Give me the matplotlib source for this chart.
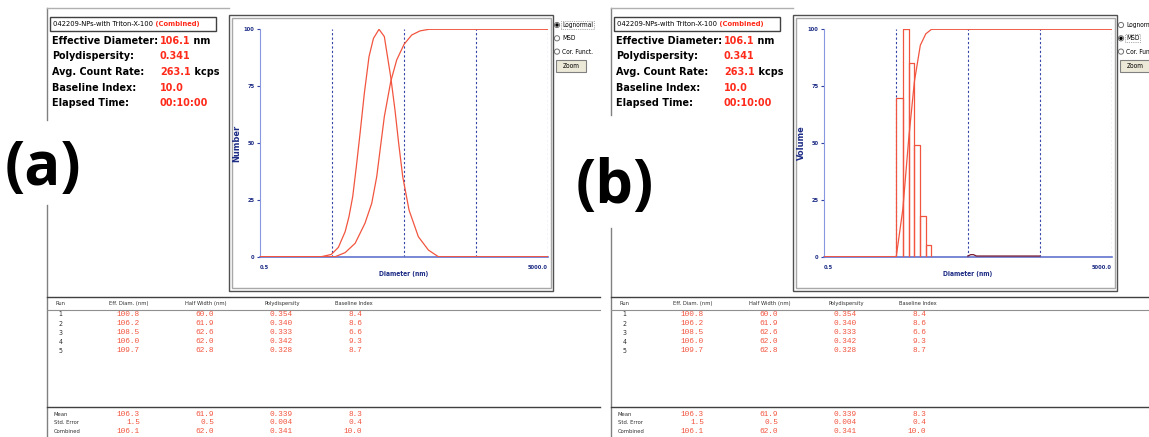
import matplotlib.pyplot as plt
from matplotlib import font_manager as fm
from matplotlib.patches import Rectangle, Circle
from matplotlib.ticker import NullLocator

W, H = 1149, 437

# header info
sample_name = '042209-NPs-with Triton-X-100'
info_labels = ['Effective Diameter:', 'Polydispersity:', 'Avg. Count Rate:',
               'Baseline Index:', 'Elapsed Time:']
info_values = ['106.1', '0.341', '263.1', '10.0', '00:10:00']
info_units = ['nm', '', 'kcps', '', '']

# run table
table_cols = ['Run', 'Eff. Diam. (nm)', 'Half Width (nm)', 'Polydispersity', 'Baseline Index']
runs = ['1', '2', '3', '4', '5']
eff_diam = [100.8, 106.2, 108.5, 106.0, 109.7]
half_width = [60.0, 61.9, 62.6, 62.0, 62.8]
polydisp = [0.354, 0.340, 0.333, 0.342, 0.328]
baseline = [8.4, 8.6, 6.6, 9.3, 8.7]
summary_rows = ['Mean', 'Std. Error', 'Combined']
summary_eff = [106.3, 1.5, 106.1]
summary_half = [61.9, 0.5, 62.0]
summary_poly = [0.339, 0.004, 0.341]
summary_base = [8.3, 0.4, 10.0]

# (a) lognormal, number distribution
logn_diam = [0.5, 3.6, 4.95, 6.2, 7.7, 8.7, 9.8, 11.0, 12.4, 14.2, 16.5, 19.0, 22.7,
             26.9, 33.0, 37.8, 42.5, 48.4, 59.2, 79.7, 110, 151, 5000]
logn_number = [0, 0, 1.0, 4.1, 11, 17.6, 26.4, 39.6, 54.3, 71.8, 88, 96, 100,
               96.8, 79, 64.5, 49.9, 35.2, 20.5, 8.8, 2.9, 0, 0]
logn_cum_diam = [0.5, 5.6, 7.7, 10.6, 14.5, 18.0, 21.1, 23.5, 26.9, 33.0, 39.9,
                 50.5, 64.5, 84, 112, 5000]
logn_cum = [0, 0, 1.8, 5.9, 14.7, 23.5, 35.2, 47, 61.6, 77, 86.5, 93.4, 97.5, 99.3, 100, 100]

# (b) MSD, volume distribution
msd_edges = [5.1, 6.3, 7.6, 9.1, 11.0, 13.1, 15.7]
msd_volume = [70, 100, 85, 49, 18, 5]
msd_cum_diam = [0.5, 5.1, 6.3, 7.6, 9.1, 11.0, 13.1, 15.7, 5000]
msd_cum = [0, 0, 21, 52, 77, 93, 98, 100, 100]
msd_tail_diam = [50, 55, 60, 66, 500]
msd_tail = [0.3, 0.9, 0.9, 0.3, 0.3]

RED = '#ff2a1a'
CURVE = '#f2553f'
NAVY = '#1c2b84'
GRID = '#3444a8'


def weight_of(f):
    w = f.weight
    if isinstance(w, str):
        w = fm.weight_dict.get(w, 400)
    return w


def narrow_font(bold):
    # look for an installed condensed sans face, Arial Narrow style
    prefs = ['LiberationSansNarrow', 'ArialNarrow', 'NotoSans-Condensed',
             'DejaVuSansCondensed', 'NotoSans-SemiCondensed', 'Roboto', 'OpenSans']
    best, best_rank = None, 99
    for f in fm.fontManager.ttflist:
        if f.stretch != 'condensed' or f.style != 'normal':
            continue
        fname = f.fname.replace(' ', '')
        if 'Mono' in fname or 'CJK' in fname:
            continue
        if (weight_of(f) >= 600) != bold:
            continue
        rank = next((i for i, p in enumerate(prefs) if p in fname), 50)
        if rank < best_rank:
            best, best_rank = f, rank
    if best is None:
        return fm.FontProperties(family='Liberation Sans',
                                 weight='bold' if bold else 'normal')
    return fm.FontProperties(fname=best.fname)


NB = narrow_font(True)
NR = narrow_font(False)
MONO = fm.FontProperties(family='Liberation Mono')
WIDE_B = fm.FontProperties(family='DejaVu Sans', weight='bold')

fig = plt.figure(figsize=(W / 100, H / 100), dpi=100)
renderer = fig.canvas.get_renderer()
bg = fig.add_axes([0, 0, 1, 1])
bg.set_xlim(0, W)
bg.set_ylim(H, 0)
bg.axis('off')


def fitted(fp, sample, target_px, start=10.0):
    t = fig.text(0, 0, sample, fontproperties=fp, fontsize=start)
    w = t.get_window_extent(renderer).width
    t.remove()
    return start * target_px / w


S_INFO = fitted(NB, 'Effective Diameter:', 105)
S_TITLE = fitted(NB, sample_name + ' (Combined)', 158)
S_HEAD = fitted(NR, 'Eff. Diam. (nm)', 39)
S_ROW = fitted(NR, 'Std. Error', 25)
S_NUM = fitted(MONO, '100.8', 23.5)
S_RADIO = fitted(NR, 'Lognormal', 31)
S_TICK = fitted(NB, '5000.0', 20)
S_XLAB = fitted(NB, 'Diameter (nm)', 49)
S_YLAB = fitted(WIDE_B, 'Number', 37)


def txt(x, y, s, fp, size, **kw):
    p = fp.copy()
    p.set_size(size)
    return bg.text(x, y, s, fontproperties=p, va='center', **kw)


def panel(dx, gap, ylabel, selected):
    # outer frame lines
    bg.plot([47 + dx, 47 + dx], [8, gap[0]], color='#808080', lw=1)
    bg.plot([47 + dx, 47 + dx], [gap[1], H], color='#808080', lw=1)
    bg.plot([47 + dx, 229 + dx], [8, 8], color='#b0b0b0', lw=1)

    # header
    bg.add_patch(Rectangle((50 + dx, 16.5), 166, 14, fill=False, ec='#404040', lw=1))
    t = txt(53 + dx, 24, sample_name, NR, S_TITLE, ha='left', color='black')
    p = NB.copy()
    p.set_size(S_TITLE)
    bg.annotate(' (Combined)', xy=(1, 0.5), xycoords=t, fontproperties=p,
                ha='left', va='center', color=RED)
    for i, (lab, val, unit) in enumerate(zip(info_labels, info_values, info_units)):
        y = 40.7 + 15.65 * i
        txt(52 + dx, y, lab, NB, S_INFO, ha='left', color='black')
        v = txt(160 + dx, y, val, NB, S_INFO, ha='left', color=RED)
        if unit:
            p = NB.copy()
            p.set_size(S_INFO)
            bg.annotate(' ' + unit, xy=(1, 0.5), xycoords=v, fontproperties=p,
                        ha='left', va='center', color='black')

    # plot box (double border)
    bg.add_patch(Rectangle((229 + dx, 14.5), 324, 276, fill=False, ec='#505050', lw=1))
    bg.add_patch(Rectangle((232 + dx, 18), 319, 270, fill=False, ec='#a8a8a8', lw=1))

    # radio buttons
    for i, name in enumerate(['Lognormal', 'MSD', 'Cor. Funct.']):
        y = 25 + 13.3 * i
        bg.add_patch(Circle((557 + dx, y), 2.6, fill=False, ec='#707070', lw=0.7))
        if name == selected:
            bg.add_patch(Circle((557 + dx, y), 1.0, color='black'))
        box = dict(fc='none', ec='#606060', lw=0.5, ls=':', pad=0.6) if name == selected else None
        txt(562 + dx, y, name, NR, S_RADIO, ha='left', color='black', bbox=box)
    bg.add_patch(Rectangle((556 + dx, 60), 30, 12, fc='#ece9d8', ec='#808080', lw=0.8))
    txt(571 + dx, 66, 'Zoom', NR, S_RADIO, ha='center', color='black')

    # table
    bg.plot([47 + dx, 600 + dx], [297, 297], color='#404040', lw=1)
    bg.plot([47 + dx, 600 + dx], [309.5, 309.5], color='#909090', lw=0.8)
    bg.plot([47 + dx, 600 + dx], [407, 407], color='#404040', lw=1)
    head_x = [61, 128.5, 206, 282.5, 354]
    for hx, name in zip(head_x, table_cols):
        txt(hx + dx, 303.5, name, NR, S_HEAD, ha='center', color='#303030')
    col_right = [140, 214, 293, 362]
    for i in range(len(runs)):
        y = 314.5 + 9.1 * i
        txt(60.5 + dx, y, runs[i], NR, S_ROW * 1.2, ha='center', color='#303030')
        vals = ['%.1f' % eff_diam[i], '%.1f' % half_width[i],
                '%.3f' % polydisp[i], '%.1f' % baseline[i]]
        for cx, s in zip(col_right, vals):
            txt(cx + dx, y, s, MONO, S_NUM, ha='right', color=CURVE)
    for i, name in enumerate(summary_rows):
        y = 414 + 8.9 * i
        txt(54 + dx, y, name, NR, S_ROW, ha='left', color='#303030')
        vals = ['%.1f' % summary_eff[i], '%.1f' % summary_half[i],
                '%.3f' % summary_poly[i], '%.1f' % summary_base[i]]
        for cx, s in zip(col_right, vals):
            txt(cx + dx, y, s, MONO, S_NUM, ha='right', color=CURVE)

    # plot axes
    x0, x1, ytop, ybot = 259.5 + dx, 548 + dx, 29.3, 256.7
    ax = fig.add_axes([x0 / W, 1 - ybot / H, (x1 - x0) / W, (ybot - ytop) / H])
    ax.patch.set_alpha(0)
    ax.set_xscale('log')
    ax.set_xlim(0.5, 5000)
    ax.set_ylim(0, 100)
    ax.spines['top'].set_visible(False)
    ax.spines['right'].set_visible(False)
    ax.spines['left'].set_color('#8898e0')
    ax.spines['bottom'].set_color('#6272cc')
    ax.spines['bottom'].set_linewidth(1.2)
    ax.xaxis.set_major_locator(NullLocator())
    ax.xaxis.set_minor_locator(NullLocator())
    ax.set_yticks([0, 25, 50, 75, 100])
    ax.tick_params(axis='y', length=2, width=0.8, color='#3040a0', labelcolor=NAVY, pad=1.5)
    tp = NB.copy()
    tp.set_size(S_TICK)
    for lab in ax.get_yticklabels():
        lab.set_fontproperties(tp)
    for d in [5, 50, 500, 5000]:
        ax.axvline(d, color=GRID, lw=0.8, ls=(0, (2, 2)), zorder=1)
    ax.text(0, -0.035, '0.5', transform=ax.transAxes, ha='left', va='top',
            fontproperties=tp, color=NAVY)
    ax.text(1, -0.035, '5000.0', transform=ax.transAxes, ha='right', va='top',
            fontproperties=tp, color=NAVY)
    xp = NB.copy()
    xp.set_size(S_XLAB)
    ax.set_xlabel('Diameter (nm)', fontproperties=xp, color=NAVY, labelpad=10)
    yp = WIDE_B.copy()
    yp.set_size(S_YLAB)
    ax.set_ylabel(ylabel, fontproperties=yp, color=NAVY, labelpad=1.5)
    return ax


ax_a = panel(0, (120, 205), 'Number', 'Lognormal')
ax_a.plot(logn_diam, logn_number, color=CURVE, lw=0.9, zorder=3)
ax_a.plot(logn_cum_diam, logn_cum, color=CURVE, lw=0.9, zorder=3)

ax_b = panel(564, (115, 228), 'Volume', 'MSD')
for i in range(len(msd_volume)):
    lo, hi = msd_edges[i], msd_edges[i + 1]
    ax_b.plot([lo, lo, hi, hi], [0, msd_volume[i], msd_volume[i], 0],
              color=CURVE, lw=0.9, zorder=3)
ax_b.plot(msd_cum_diam, msd_cum, color=CURVE, lw=0.9, zorder=4)
ax_b.plot(msd_tail_diam, msd_tail, color='#7a1a30', lw=0.9, zorder=3)

# panel letters
bg.text(43, 170, '(a)', family=['Open Sans', 'DejaVu Sans'], fontweight='bold',
        fontsize=43, ha='center', va='center', color='black')
bg.text(615, 188, '(b)', family=['Open Sans', 'DejaVu Sans'], fontweight='bold',
        fontsize=43, ha='center', va='center', color='black')

fig.savefig('out.png', dpi=100)
